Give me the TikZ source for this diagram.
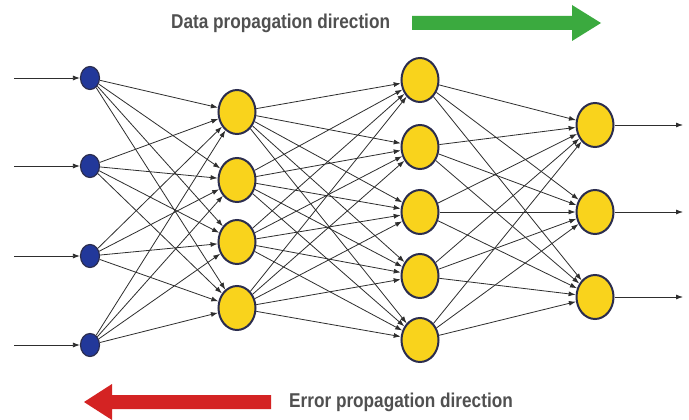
\documentclass[tikz,border=0pt]{standalone}
\usepackage{fontspec}
\setmainfont{Liberation Sans}
\newfontfamily\labelfont[FakeStretch=0.86]{Liberation Sans}
\usetikzlibrary{shapes.geometric,arrows.meta}
\definecolor{nodeyellow}{HTML}{F9D31C}
\definecolor{nodeedge}{HTML}{2B2D4E}
\definecolor{inblue}{HTML}{22389A}
\definecolor{edgegray}{HTML}{2E2E2E}
\definecolor{txtgray}{HTML}{505050}
\definecolor{arrgreen}{HTML}{3BAA3F}
\definecolor{arrred}{HTML}{D42323}
\begin{document}
\begin{tikzpicture}[x=1pt,y=-1pt,
  innode/.style={ellipse,draw=nodeedge,line width=1.2pt,fill=inblue,minimum width=19pt,minimum height=23pt,inner sep=0pt},
  hidnode/.style={ellipse,draw=nodeedge,line width=2pt,fill=nodeyellow,minimum width=37pt,minimum height=44pt,inner sep=0pt},
  conn/.style={draw=edgegray,line width=0.8pt,-{Latex[length=7pt,width=5pt]}},
  lbl/.style={font=\labelfont\bfseries\fontsize{20}{22}\selectfont,text=txtgray,inner sep=0pt}]
\fill[white] (0,0) rectangle (689,418);
% input layer
\foreach \i/\y in {1/78,2/166,3/256,4/345}{
  \node[innode] (a\i) at (90,\y) {};
  \coordinate (ai\i) at (14,\y);
}
% hidden 1
\foreach \i/\y in {1/112,2/180,3/242,4/308}{
  \node[hidnode] (b\i) at (237,\y) {};
}
% hidden 2
\foreach \i/\y in {1/80,2/147,3/212,4/276,5/340}{
  \node[hidnode] (c\i) at (420,\y) {};
}
% output
\foreach \i/\y in {1/125,2/212,3/297}{
  \node[hidnode] (d\i) at (595,\y) {};
  \coordinate (do\i) at (683,\y);
}
% connections
\foreach \i in {1,...,4}{ \draw[conn] (ai\i) -- (a\i); }
\foreach \i in {1,...,4}{ \foreach \j in {1,...,4}{ \draw[conn] (a\i) -- (b\j); } }
\foreach \i in {1,...,4}{ \foreach \j in {1,...,5}{ \draw[conn] (b\i) -- (c\j); } }
\foreach \i in {1,...,5}{ \foreach \j in {1,...,3}{ \draw[conn] (c\i) -- (d\j); } }
\foreach \i in {1,...,3}{ \draw[conn] (d\i) -- (do\i); }
% labels
\node[lbl,anchor=west] (dtxt) at (171,23) {Data propagation direction};
\fill[arrgreen] (412,16) -- (572,16) -- (572,5) -- (601,23) -- (572,41) -- (572,30) -- (412,30) -- cycle;
\node[lbl,anchor=west] (etxt) at (289,402) {Error propagation direction};
\fill[arrred] (271,395) -- (112,395) -- (112,384) -- (84,402) -- (112,420) -- (112,409) -- (271,409) -- cycle;
\end{tikzpicture}
\end{document}
